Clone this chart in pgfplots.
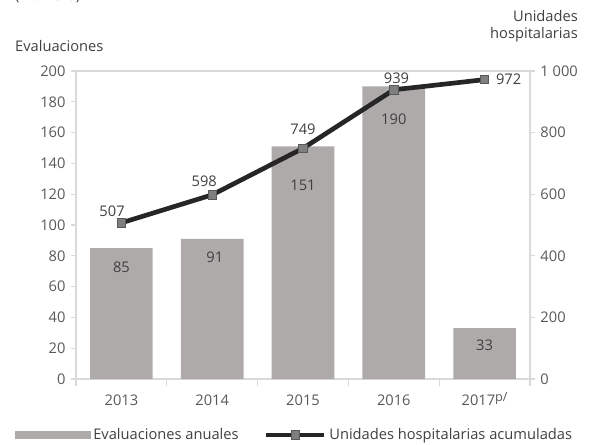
\documentclass[border=0pt]{standalone}
\usepackage{pgfplots}
\usepackage{pgfplotstable}
\pgfplotsset{compat=1.18}
\usepackage{fontspec}
\setmainfont{Open Sans}
\definecolor{barcol}{HTML}{AEAAAA}
\definecolor{linecol}{HTML}{262626}
\definecolor{mkfill}{HTML}{7F7F7F}
\definecolor{mkdraw}{HTML}{595959}
\definecolor{frame}{HTML}{D9D9D9}
\definecolor{txt}{HTML}{595959}
\definecolor{lbl}{HTML}{404040}

\pgfplotsset{
  lineleg/.style={legend image code/.code={\draw[##1, mark repeat=2, mark phase=2]
    plot coordinates {(0pt,0pt) (21.75pt,0pt) (43.5pt,0pt)};}},
  barleg/.style={legend image code/.code={\fill[barcol] (0pt,-2.6pt) rectangle (56pt,2.6pt);}},
}

% evaluaciones anuales (left axis); dy = label offset from bar top
\pgfplotstableread{
x y dx dy
0 85 0 -14
1 91 2 -14
2 151 0 -29
3 190 0 -25
4 33 0 -13
}\evaluaciones
% unidades hospitalarias acumuladas (right axis)
\pgfplotstableread{
x y dx dy
0 507 -7 9
1 598 -6 10
2 749 0 14
3 939 2 9
4 972 18 0
}\unidades

\begin{document}
\fontsize{11}{13}\selectfont
\begin{tikzpicture}
\useasboundingbox (-57pt,-48.75pt) rectangle (387.75pt,284.25pt);
\pgfplotsset{
  base/.style={
    width=340.5pt, height=231pt, scale only axis,
    xmin=-0.5, xmax=4.5,
    tick align=outside,
    major tick length=4pt,
    every tick/.style={frame, line width=0.8pt},
    tick label style={color=txt, font=\fontsize{11}{13}\selectfont},
    /pgf/number format/assume math mode=true,
    /pgf/number format/1000 sep={\ },
  },
}
\begin{axis}[
  base,
  ybar, bar width=0.69,
  ymin=0, ymax=200, ytick distance=20,
  axis line style={frame, line width=0.8pt},
  xtick={0,...,4},
  xticklabels={\mbox{2013},\mbox{2014},\mbox{2015},\mbox{2016},\mbox{2017\raisebox{0.55ex}{\fontsize{9.5}{10}\selectfont p/}}},
  xtick style={draw=none},
  extra x ticks={-0.5,0.5,1.5,2.5,3.5,4.5},
  extra x tick labels={},
  extra x tick style={major tick length=5pt, xtick style={draw=frame}},
  xtick pos=bottom, ytick pos=left,
  xticklabel style={yshift=-4pt, anchor=base, yshift=-12pt},
  ylabel={Evaluaciones},
  every axis y label/.style={at={(rel axis cs:0,1)}, anchor=west,
    xshift=-49.5pt, yshift=18.75pt, color=lbl},
  title={(Número)},
  title style={at={(rel axis cs:0,1)}, anchor=west, xshift=-49.5pt,
    yshift=50pt, color=lbl},
]
\addplot[fill=barcol, draw=none,
  point meta=y,
  nodes near coords,
  visualization depends on={\thisrow{dx} \as \dx},
  visualization depends on={\thisrow{dy} \as \dy},
  nodes near coords style={anchor=center, xshift=\dx, yshift=\dy,
    color=lbl, font=\fontsize{11}{13}\selectfont},
] table[x=x, y=y] {\evaluaciones};
\end{axis}
\begin{axis}[
  base,
  ymin=0, ymax=1000, ytick distance=200,
  axis x line=none, axis y line*=right,
  axis line style={frame, line width=0.8pt},
  ylabel={Unidades\\hospitalarias},
  every axis y label/.style={at={(rel axis cs:1,1)}, anchor=east,
    align=right, xshift=39.75pt, yshift=33.75pt, color=lbl},
  legend style={at={(rel axis cs:-0.134,-0.182)}, anchor=west, draw=none,
    fill=none, legend columns=2, text=lbl, inner sep=0pt,
    /tikz/every even column/.append style={column sep=17pt},
    font=\fontsize{11}{13}\selectfont},
]
\addlegendimage{barleg}
\addlegendentry{Evaluaciones anuales}
\addplot[linecol, line width=3.5pt, mark=square*,
  mark options={fill=mkfill, draw=mkdraw, line width=0.6pt},
  mark size=3.2pt,
  point meta=y,
  nodes near coords,
  visualization depends on={\thisrow{dx} \as \dx},
  visualization depends on={\thisrow{dy} \as \dy},
  nodes near coords style={anchor=center, xshift=\dx, yshift=\dy,
    color=lbl, font=\fontsize{11}{13}\selectfont},
  lineleg,
] table[x=x, y=y] {\unidades};
\addlegendentry{Unidades hospitalarias acumuladas}
\end{axis}
\end{tikzpicture}
\end{document}
